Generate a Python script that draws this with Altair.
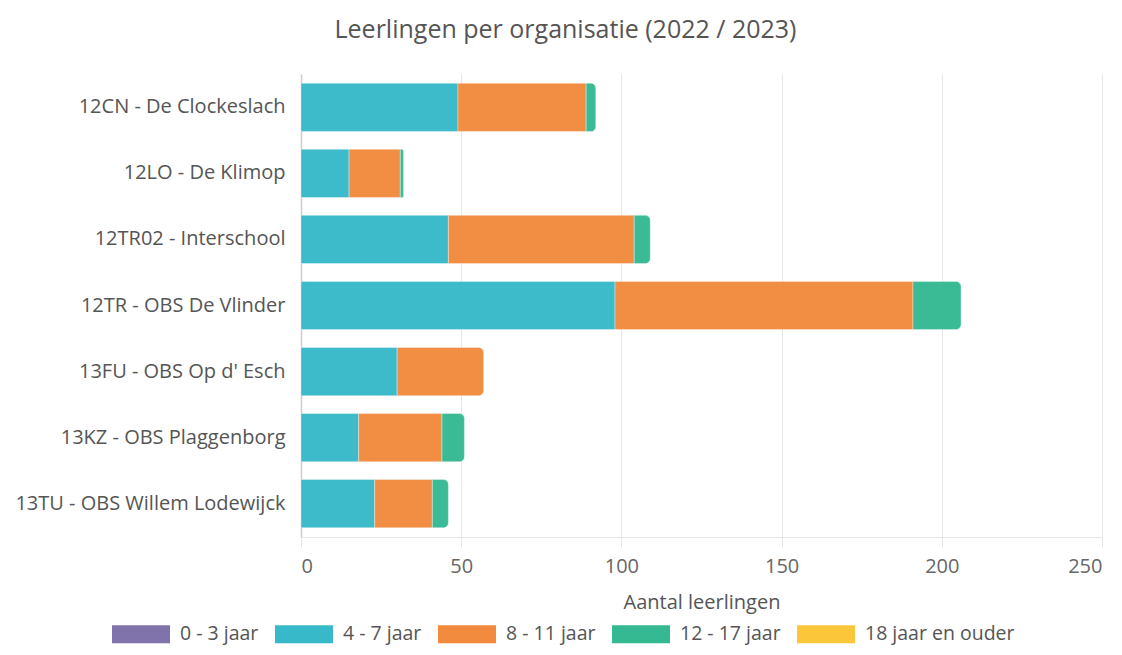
import altair as alt
import pandas as pd

organisaties = [
    "12CN - De Clockeslach",
    "12LO - De Klimop",
    "12TR02 - Interschool",
    "12TR - OBS De Vlinder",
    "13FU - OBS Op d' Esch",
    "13KZ - OBS Plaggenborg",
    "13TU - OBS Willem Lodewijck",
]
leeftijden = ["0 - 3 jaar", "4 - 7 jaar", "8 - 11 jaar", "12 - 17 jaar", "18 jaar en ouder"]
kleuren = ["#8073ac", "#38b9c9", "#f28b3e", "#34b992", "#fbc63a"]

jaar_0_3 = [0, 0, 0, 0, 0, 0, 0]
jaar_4_7 = [49, 15, 46, 98, 30, 18, 23]
jaar_8_11 = [40, 16, 58, 93, 27, 26, 18]
jaar_12_17 = [3, 1, 5, 15, 0, 7, 5]
jaar_18_plus = [0, 0, 0, 0, 0, 0, 0]

series = [jaar_0_3, jaar_4_7, jaar_8_11, jaar_12_17, jaar_18_plus]

rows = []
for i, org in enumerate(organisaties):
    last = max(j for j, s in enumerate(series) if s[i] > 0)
    for j, s in enumerate(series):
        rows.append({"org": org, "groep": leeftijden[j], "volgorde": j,
                     "aantal": s[i], "laatste": j == last})
df = pd.DataFrame(rows)

FONT = "Open Sans"

base = alt.Chart(df).transform_stack(
    stack="aantal", as_=["x0", "x1"], groupby=["org"],
    sort=[alt.SortField("volgorde", order="ascending")],
)

y_enc = alt.Y("org:N", sort=organisaties, title=None,
              scale=alt.Scale(paddingInner=0.27, paddingOuter=0.14),
              axis=alt.Axis(labelFont=FONT, labelFontSize=20, labelColor="#555555",
                            labelPadding=16, ticks=False, domainColor="#cccccc",
                            domainWidth=1.5, labelLimit=400))
x_enc = alt.X("x0:Q", title="Aantal leerlingen",
              scale=alt.Scale(domain=[0, 250], nice=False),
              axis=alt.Axis(values=[0, 50, 100, 150, 200, 250], labelFont=FONT,
                            labelFontSize=20, labelColor="#666666", tickSize=10,
                            tickColor="#e6e6e6", gridColor="#e6e6e6", domainColor="#e6e6e6",
                            labelPadding=9, titleFont=FONT, titleFontSize=20,
                            titleColor="#555555", titleFontWeight="normal", titlePadding=16))
color_enc = alt.Color("groep:N", scale=alt.Scale(domain=leeftijden, range=kleuren),
                      title=None,
                      legend=alt.Legend(orient="none", direction="horizontal",
                                        legendX=-189, legendY=531,
                                        symbolType="M-1,-0.31H1V0.31H-1Z",
                                        symbolSize=3364, symbolStrokeWidth=0,
                                        symbolOpacity=1,
                                        labelFont=FONT, labelFontSize=19.5,
                                        labelColor="#555555", labelOffset=10,
                                        columnPadding=16, labelLimit=300))

inner = base.transform_filter("!datum.laatste").mark_bar(
    opacity=0.97, stroke="white", strokeWidth=0.6, strokeOpacity=0.6
).encode(y=y_enc, x=x_enc, x2="x1:Q", color=color_enc)

outer = base.transform_filter("datum.laatste").mark_bar(
    opacity=0.97, stroke="white", strokeWidth=0.6, strokeOpacity=0.6,
    cornerRadiusTopRight=5, cornerRadiusBottomRight=5
).encode(y=y_enc, x=x_enc, x2="x1:Q", color=color_enc)

chart = alt.layer(inner, outer).properties(
    width=801, height=463,
    title=alt.Title("Leerlingen per organisatie (2022 / 2023)", font=FONT, fontSize=25,
                    fontWeight="normal", color="#555555", anchor="middle", dx=-136,
                    offset=31),
    autosize=alt.AutoSizeParams(type="none"),
    padding={"left": 293, "top": 66, "right": 12, "bottom": 110},
).configure_view(stroke=None)

chart.save("out.html", embed_options={"renderer": "svg", "actions": False})
